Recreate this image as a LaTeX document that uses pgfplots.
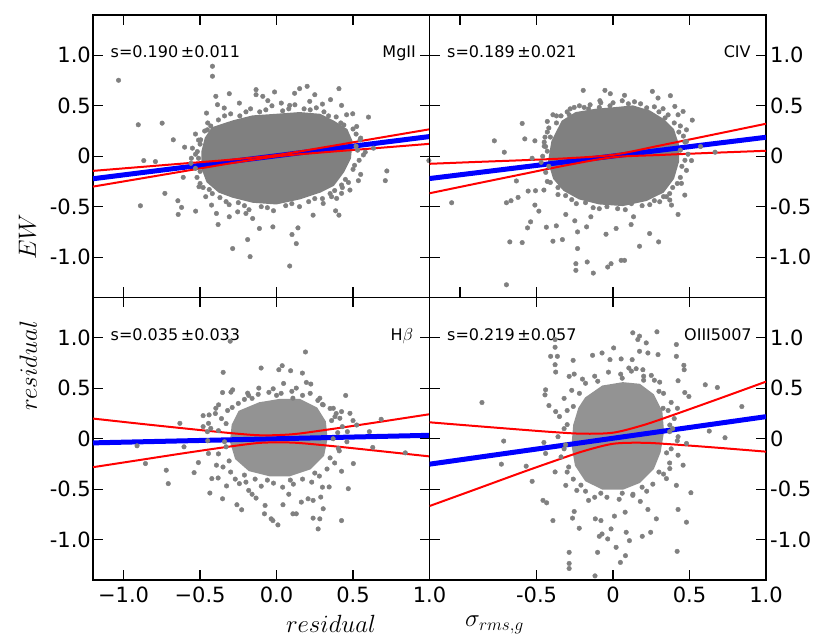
\documentclass[border=0pt]{standalone}
\usepackage{fontspec}
\setmainfont{DejaVu Sans}
\usepackage{pgfplots}
\pgfplotsset{compat=1.18}
\definecolor{dotgray}{RGB}{128,128,128}
\tikzset{ann/.style={font=\fontsize{16}{16}\selectfont, inner sep=0pt}}
\pgfplotsset{
 panel/.style={
  width=336.5pt, height=282.5pt, scale only axis,
  xmin=-1.2, xmax=1.0, ymin=-1.4, ymax=1.4,
  tick align=inside, major tick length=10pt,
  every tick/.append style={black, line width=1.2pt},
  axis line style={line width=1.6pt},
  ytick={-1,-0.5,0,0.5,1},
  xtick={-1,-0.5,0,0.5,1},
  xticklabels={}, yticklabels={},
  tick label style={font=\fontsize{21}{21}\selectfont},
  yticklabel style={inner sep=0pt},
  xticklabel style={inner sep=0pt, yshift=-7pt},
 },
 ylabs/.style={yticklabels={-1.0,-0.5,0,0.5,1.0}},
 dots/.style={only marks, mark=*, mark size=2.3pt, color=dotgray, mark options={draw=none, fill=dotgray}},
 core/.style={fill=dotgray, draw=dotgray, line width=2pt},
 fitline/.style={blue, line width=5pt, no marks},
 band/.style={red, line width=2pt, no marks, smooth},
}
\begin{document}
\begin{tikzpicture}
\path[use as bounding box] (-93pt,-64pt) rectangle (737pt,580pt);
% ---------------- top left: MgII
\begin{axis}[panel, at={(0pt,282.5pt)}, anchor=south west, ylabs, yticklabel style={xshift=-2pt}]
\addplot[core] table {
-0.419 0.279
-0.287 0.345
-0.156 0.395
-0.002 0.411
0.151 0.428
0.283 0.411
0.371 0.345
0.458 0.262
0.491 0.146
0.480 -0.020
0.436 -0.153
0.371 -0.285
0.283 -0.352
0.151 -0.418
-0.002 -0.468
-0.156 -0.451
-0.287 -0.401
-0.375 -0.352
-0.452 -0.252
-0.485 -0.119
-0.485 0.046
-0.463 0.179
} -- cycle;
\addplot[dots] table {
-0.38 0.36
-0.30 0.42
-0.24 0.40
-0.17 0.47
-0.11 0.44
-0.03 0.50
0.04 0.45
0.12 0.51
0.18 0.47
0.26 0.48
0.31 0.44
0.39 0.39
0.44 0.31
0.50 0.27
0.55 0.18
0.52 0.10
0.58 0.04
0.54 -0.04
0.50 -0.13
0.55 -0.18
0.47 -0.26
0.43 -0.31
0.35 -0.37
0.30 -0.42
0.21 -0.45
0.15 -0.50
0.06 -0.49
-0.02 -0.54
-0.10 -0.50
-0.18 -0.53
-0.25 -0.46
-0.31 -0.48
-0.37 -0.41
-0.44 -0.33
-0.48 -0.31
-0.52 -0.21
-0.50 -0.15
-0.56 -0.07
-0.51 -0.02
-0.55 0.08
-0.50 0.12
-0.53 0.22
-0.47 0.25
-0.43 0.30
-0.45 0.33
-0.34 0.40
-0.20 0.44
-0.07 0.46
0.08 0.47
0.22 0.46
0.34 0.40
0.42 0.33
0.52 0.22
0.53 0.06
0.51 -0.09
0.45 -0.23
0.38 -0.34
0.25 -0.42
0.10 -0.47
-0.06 -0.51
-0.21 -0.49
-0.33 -0.45
-0.42 -0.37
-0.50 -0.27
-0.53 -0.12
-0.53 0.02
-0.51 0.16
-1.033 0.753
-0.419 0.892
-0.419 0.793
-0.904 0.312
-0.748 0.328
-0.675 0.163
-0.601 0.090
-0.868 -0.043
-0.792 -0.053
-0.890 -0.491
-0.730 -0.368
-0.645 -0.441
-0.621 -0.507
-0.643 -0.577
-0.529 -0.544
-0.610 -0.209
-0.557 -0.020
-0.518 0.046
-0.496 0.163
-0.452 0.262
-0.458 0.428
-0.397 0.594
-0.386 0.511
-0.342 0.478
-0.309 0.620
-0.243 0.527
-0.134 0.610
-0.090 0.594
-0.013 0.637
-0.134 0.660
-0.057 0.551
0.031 0.527
0.086 0.504
0.118 0.624
0.151 0.670
0.200 0.693
0.217 0.544
0.250 0.610
0.300 0.517
0.353 0.561
0.408 0.670
0.425 0.504
0.458 0.411
0.498 0.421
0.601 0.388
0.524 0.295
0.546 0.163
0.568 0.013
0.634 0.080
0.721 -0.146
0.711 -0.242
0.535 -0.242
0.480 -0.335
0.425 -0.368
0.425 -0.285
0.393 -0.418
0.360 -0.401
0.386 -0.541
0.408 -0.584
0.305 -0.468
0.239 -0.584
0.140 -0.710
0.101 -0.776
0.129 -0.866
0.086 -1.088
-0.173 -0.995
-0.189 -0.826
-0.287 -0.915
-0.024 -0.700
-0.112 -0.716
-0.156 -0.617
-0.200 -0.567
-0.254 -0.551
-0.309 -0.600
-0.382 -0.677
-0.393 -0.567
-0.425 -0.484
-0.463 -0.401
-0.507 -0.302
0.996 -0.043
};
\addplot[fitline] table {
-1.2 -0.223
1.0 0.195
};
\addplot[band] table {
-1.2 -0.145
-0.9 -0.108
-0.6 -0.071
-0.3 -0.034
0.0 0.012
0.3 0.086
0.6 0.164
1.0 0.267
};
\addplot[band] table {
-1.2 -0.301
-0.9 -0.224
-0.6 -0.147
-0.3 -0.070
0.0 -0.002
0.3 0.038
0.6 0.074
1.0 0.123
};
\node[ann, anchor=base west] at (rel axis cs:0.052,0.848) {s=0.190\,±0.011};
\node[ann, anchor=base east] at (rel axis cs:0.96,0.848) {MgII};
\end{axis}
% ---------------- top right: CIV
\begin{axis}[panel, at={(336.5pt,282.5pt)}, anchor=south west, ylabs, yticklabel pos=right, yticklabel style={xshift=4pt}]
\addplot[core] table {
-0.331 0.345
-0.243 0.428
-0.112 0.461
0.020 0.478
0.129 0.494
0.239 0.444
0.327 0.362
0.393 0.262
0.425 0.113
0.425 -0.053
0.393 -0.219
0.327 -0.352
0.217 -0.434
0.064 -0.484
-0.090 -0.468
-0.221 -0.418
-0.320 -0.335
-0.386 -0.219
-0.419 -0.053
-0.397 0.146
} -- cycle;
\addplot[dots] table {
-0.34 0.40
-0.30 0.44
-0.22 0.50
-0.16 0.47
-0.08 0.53
-0.02 0.50
0.06 0.55
0.10 0.52
0.18 0.52
0.22 0.48
0.30 0.44
0.34 0.38
0.40 0.33
0.43 0.24
0.46 0.20
0.44 0.06
0.49 0.02
0.45 -0.10
0.48 -0.14
0.42 -0.27
0.39 -0.31
0.33 -0.40
0.27 -0.44
0.19 -0.49
0.12 -0.47
0.03 -0.52
-0.04 -0.50
-0.13 -0.51
-0.18 -0.46
-0.27 -0.43
-0.31 -0.39
-0.36 -0.31
-0.41 -0.26
-0.44 -0.16
-0.42 -0.10
-0.46 0.00
-0.43 0.05
-0.45 0.10
-0.41 0.19
-0.43 0.24
-0.37 0.33
-0.37 0.40
-0.28 0.47
-0.15 0.51
0.00 0.53
0.14 0.54
0.27 0.49
0.36 0.41
0.44 0.30
0.47 0.14
0.47 -0.04
0.44 -0.21
0.37 -0.37
0.24 -0.48
0.08 -0.53
-0.09 -0.52
-0.24 -0.47
-0.36 -0.38
-0.43 -0.25
-0.47 -0.06
-0.45 0.14
-0.42 0.28
-0.195 0.653
-0.053 0.653
-0.018 0.620
0.075 0.604
0.257 0.643
0.294 0.577
0.375 0.600
-0.189 0.484
-0.086 0.551
-0.090 0.484
-0.254 0.484
-0.287 0.411
-0.393 0.411
-0.430 0.345
-0.594 0.325
-0.577 0.172
-0.776 0.153
-0.711 0.040
-0.511 0.153
-0.445 0.189
-0.441 0.096
-0.529 -0.020
-0.632 -0.245
-0.697 -0.461
-0.667 -0.441
-0.621 -0.408
-0.555 -0.345
-0.507 -0.342
-0.452 -0.335
-0.511 -0.484
-0.485 -0.544
-0.539 -0.650
-0.559 -0.710
-0.436 -0.703
-0.371 -0.690
-0.309 -0.577
-0.250 -0.640
-0.232 -0.750
-0.173 -0.700
-0.145 -0.600
-0.046 -0.773
0.020 -0.716
0.118 -0.677
0.134 -0.600
0.239 -0.766
0.298 -0.849
0.173 -0.892
0.053 -1.032
0.075 -1.032
-0.013 -1.065
-0.035 -1.098
-0.169 -1.048
-0.243 -1.065
-0.243 -1.131
-0.129 -1.158
-0.232 -0.915
-0.331 -0.826
-0.393 -0.842
-0.594 -0.856
-0.675 -0.849
-0.697 -1.274
-1.055 -0.461
0.382 -0.484
0.425 -0.577
0.469 -0.385
0.447 -0.269
0.513 -0.043
0.667 0.040
0.572 0.096
0.480 0.146
0.518 0.358
0.458 0.444
0.425 0.411
0.480 0.262
0.404 0.494
0.327 0.471
0.239 0.395
0.349 -0.401
0.305 -0.451
0.371 -0.434
};
\addplot[fitline] table {
-1.2 -0.221
1.0 0.188
};
\addplot[band] table {
-1.2 -0.075
-0.9 -0.057
-0.6 -0.040
-0.3 -0.020
0.0 0.014
0.3 0.104
0.6 0.197
1.0 0.322
};
\addplot[band] table {
-1.2 -0.367
-0.9 -0.273
-0.6 -0.180
-0.3 -0.088
0.0 -0.010
0.3 0.012
0.6 0.031
1.0 0.054
};
\node[ann, anchor=base west] at (rel axis cs:0.052,0.848) {s=0.189\,±0.021};
\node[ann, anchor=base east] at (rel axis cs:0.955,0.848) {CIV};
\end{axis}
% ---------------- bottom left: Hbeta
\begin{axis}[panel, at={(0pt,0pt)}, anchor=south west, ylabs, yticklabel style={xshift=-2pt},
  xticklabels={−1.0,−0.5,0.0,0.5,1.0}]
\addplot[core, fill=dotgray!85, draw=dotgray!85] table {
-0.243 0.269
-0.112 0.352
0.020 0.385
0.151 0.385
0.261 0.302
0.316 0.169
0.327 0.003
0.305 -0.163
0.217 -0.296
0.086 -0.362
-0.046 -0.362
-0.178 -0.312
-0.265 -0.196
-0.298 -0.030
-0.287 0.136
} -- cycle;
\addplot[dots] table {
-0.40 0.25
-0.36 0.20
-0.38 0.08
-0.33 -0.08
-0.38 -0.15
-0.35 -0.28
-0.30 -0.33
-0.27 -0.40
-0.20 -0.43
-0.14 -0.40
-0.10 -0.47
-0.02 -0.44
0.04 -0.48
0.11 -0.45
0.17 -0.40
0.23 -0.43
0.28 -0.37
0.33 -0.30
0.38 -0.24
0.41 -0.12
0.40 0.06
0.43 0.12
0.39 0.25
0.35 0.30
0.27 0.38
0.22 0.45
0.10 0.47
0.03 0.45
-0.05 0.46
-0.12 0.44
-0.21 0.39
-0.25 0.35
-0.32 0.28
-0.45 -0.02
-0.48 0.12
0.46 -0.03
0.50 0.18
0.08 -0.55
-0.16 -0.55
0.30 -0.48
-0.29 0.31
-0.16 0.40
0.00 0.43
0.17 0.43
0.30 0.34
0.36 0.18
0.37 0.00
0.35 -0.19
0.25 -0.34
0.09 -0.41
-0.06 -0.41
-0.21 -0.36
-0.31 -0.22
-0.34 -0.03
-0.33 0.15
-0.303 0.967
0.189 0.860
-0.101 0.701
0.037 0.724
0.015 0.684
0.092 0.674
0.169 0.651
-0.349 0.658
0.195 0.558
0.224 0.542
0.046 0.548
-0.116 0.502
-0.022 0.495
-0.189 0.452
-0.182 0.429
-0.287 0.485
-0.353 0.458
-0.298 0.462
-0.379 0.336
-0.397 0.302
-0.480 0.229
-0.441 0.236
-0.632 0.153
-0.445 0.153
-0.430 0.103
-0.452 0.070
-0.605 -0.080
-0.912 -0.070
-0.857 -0.246
-0.721 -0.312
-0.708 -0.445
-0.539 -0.336
-0.511 -0.236
-0.445 -0.146
-0.423 -0.395
-0.382 -0.389
-0.393 -0.262
-0.436 -0.538
-0.353 -0.595
-0.327 -0.468
-0.259 -0.654
-0.228 -0.704
-0.243 -0.445
-0.182 -0.512
-0.134 -0.588
-0.075 -0.661
-0.079 -0.744
-0.035 -0.794
0.009 -0.854
-0.024 -0.811
0.042 -0.654
0.107 -0.744
0.129 -0.744
0.162 -0.628
0.206 -0.595
0.239 -0.611
0.239 -0.787
0.283 -0.794
0.272 -0.894
0.305 -0.694
0.289 -0.578
0.344 -0.478
0.425 -0.811
0.469 -0.495
0.425 -0.322
0.502 -0.246
0.404 -0.096
0.463 0.070
0.524 0.136
0.607 0.070
0.629 -0.086
0.684 0.193
0.842 -0.140
0.452 0.429
0.425 0.269
0.382 0.219
0.480 0.252
0.414 0.203
0.371 0.302
0.305 0.336
0.283 0.402
0.129 0.502
0.107 0.402
};
\addplot[fitline] table {
-1.2 -0.041
1.0 0.034
};
\addplot[band] table {
-1.2 0.200
-0.9 0.150
-0.6 0.102
-0.3 0.056
-0.1 0.034
0.1 0.044
0.3 0.083
0.6 0.150
1.0 0.243
};
\addplot[band] table {
-1.2 -0.282
-0.9 -0.212
-0.6 -0.142
-0.3 -0.076
-0.1 -0.040
0.1 -0.038
0.3 -0.063
0.6 -0.110
1.0 -0.175
};
\node[ann, anchor=base west] at (rel axis cs:0.052,0.848) {s=0.035\,±0.033};
\node[ann, anchor=base east] at (rel axis cs:0.952,0.848) {H$\beta$};
\end{axis}
% ---------------- bottom right: OIII5007
\begin{axis}[panel, at={(336.5pt,0pt)}, anchor=south west, ylabs, yticklabel pos=right, yticklabel style={xshift=4pt},
  xtick={-0.5,0,0.5,1}, xticklabels={-0.5,0,0.5,1.0}]
\addplot[core, fill=dotgray!85, draw=dotgray!85] table {
-0.178 0.402
-0.068 0.518
0.064 0.551
0.173 0.535
0.261 0.435
0.316 0.269
0.327 0.070
0.305 -0.130
0.261 -0.296
0.173 -0.429
0.064 -0.495
-0.068 -0.495
-0.178 -0.412
-0.243 -0.262
-0.265 -0.063
-0.254 0.136
-0.221 0.302
} -- cycle;
\addplot[dots] table {
-0.32 0.40
-0.27 0.48
-0.18 0.55
-0.12 0.62
-0.03 0.66
0.05 0.64
0.12 0.67
0.20 0.62
0.27 0.58
0.33 0.45
0.38 0.36
0.40 0.20
0.39 0.10
0.42 -0.02
0.38 -0.10
0.37 -0.24
0.33 -0.35
0.26 -0.45
0.22 -0.52
0.13 -0.55
0.04 -0.60
-0.04 -0.58
-0.12 -0.58
-0.18 -0.52
-0.26 -0.40
-0.30 -0.33
-0.34 -0.18
-0.32 -0.10
-0.36 0.02
-0.32 0.10
-0.35 0.22
-0.30 0.28
-0.22 0.45
-0.10 0.57
0.06 0.60
0.20 0.58
0.30 0.47
0.36 0.28
0.37 0.07
0.35 -0.14
0.30 -0.33
0.19 -0.48
0.06 -0.54
-0.08 -0.54
-0.21 -0.46
-0.29 -0.28
-0.31 -0.06
-0.30 0.14
-0.26 0.32
-0.379 0.983
-0.379 0.907
-0.408 0.817
-0.364 0.817
-0.379 0.734
-0.375 0.661
-0.261 0.777
-0.287 0.618
-0.254 0.641
-0.200 0.591
-0.134 0.827
-0.072 0.850
0.004 0.900
-0.020 0.784
0.053 0.791
0.129 1.050
0.162 0.983
0.173 1.017
0.217 0.950
0.287 1.060
0.173 0.867
0.228 0.850
0.294 0.834
0.125 0.784
0.103 0.701
0.151 0.694
0.195 0.684
0.250 0.628
0.305 0.561
0.414 0.934
0.414 0.817
0.463 0.728
0.465 0.684
0.425 0.575
0.469 0.458
0.496 0.419
0.603 0.535
0.682 0.508
0.842 0.319
0.732 0.010
0.629 0.076
0.480 -0.047
0.421 0.302
0.327 0.302
0.371 0.136
0.425 0.020
0.425 -0.163
0.458 -0.262
0.371 -0.296
0.349 -0.395
0.414 -0.462
0.509 -0.535
0.425 -0.701
0.283 -0.794
0.228 -0.701
0.178 -0.621
0.129 -0.561
0.079 -0.728
0.086 -0.927
0.081 -1.159
0.048 -1.226
0.009 -0.767
-0.013 -0.894
-0.035 -0.993
-0.072 -0.944
-0.079 -0.811
-0.116 -0.794
-0.160 -0.611
-0.221 -0.887
-0.265 -0.787
-0.254 -0.721
-0.393 -0.811
-0.434 -0.635
-0.458 -0.611
-0.529 -0.422
-0.568 -0.272
-0.730 -0.252
-0.715 -0.023
-0.857 0.359
-0.441 0.485
-0.445 0.435
-0.419 0.329
-0.375 0.269
-0.452 -0.037
-0.441 -0.146
-0.379 -0.329
-0.309 -0.462
-0.237 -0.512
-0.101 -1.126
-0.287 -1.126
-0.287 -1.236
-0.287 -1.286
-0.118 -1.359
0.419 -1.116
0.480 -0.827
0.246 -0.927
0.191 -0.967
0.107 -1.010
0.020 -1.076
-0.090 -0.967
};
\addplot[fitline] table {
-1.2 -0.252
1.0 0.219
};
\addplot[band] table {
-1.2 0.163
-0.9 0.126
-0.6 0.090
-0.4 0.067
-0.2 0.050
0.0 0.060
0.2 0.136
0.4 0.239
0.7 0.401
1.0 0.566
};
\addplot[band] table {
-1.2 -0.667
-0.9 -0.502
-0.6 -0.336
-0.4 -0.229
-0.2 -0.126
0.0 -0.050
0.2 -0.040
0.4 -0.057
0.7 -0.091
1.0 -0.128
};
\node[ann, anchor=base west] at (rel axis cs:0.052,0.848) {s=0.219\,±0.057};
\node[ann, anchor=base east] at (rel axis cs:0.958,0.848) {OIII5007};
\end{axis}
% axis labels
\node[anchor=base, inner sep=0pt, font=\fontsize{27}{27}\selectfont] at (238pt,-53pt) {$residual$};
\node[anchor=base west, inner sep=0pt, font=\fontsize{27}{27}\selectfont] at (372pt,-47pt) {$\sigma_{rms,g}$};
\node[rotate=90, anchor=base, inner sep=0pt, font=\fontsize{27}{27}\selectfont] at (-57pt,343pt) {$EW$};
\node[rotate=90, anchor=base, inner sep=0pt, font=\fontsize{27}{27}\selectfont] at (-56pt,214pt) {$residual$};
\end{tikzpicture}
\end{document}
